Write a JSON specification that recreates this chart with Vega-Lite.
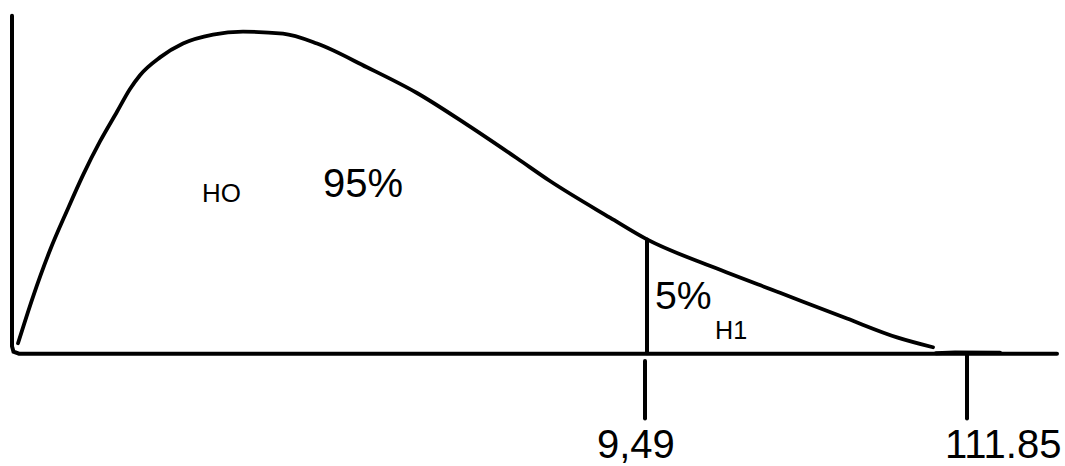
{
  "$schema": "https://vega.github.io/schema/vega-lite/v6.json",
  "width": 1065,
  "height": 466,
  "padding": 0,
  "autosize": {"type": "fit", "contains": "padding"},
  "config": {"view": {"stroke": null}, "font": "Liberation Sans"},
  "datasets": {
    "lines": [
      {"id": "axis", "o": 1, "x": 12, "y": 16},
      {"id": "axis", "o": 2, "x": 12, "y": 350},
      {"id": "axis", "o": 3, "x": 13.5, "y": 355.5},
      {"id": "axis", "o": 4, "x": 19, "y": 357.5},
      {"id": "axis", "o": 5, "x": 1057, "y": 357.5},
      {"id": "crit", "o": 1, "x": 647, "y": 242},
      {"id": "crit", "o": 2, "x": 647, "y": 357},
      {"id": "tick1", "o": 1, "x": 645, "y": 365},
      {"id": "tick1", "o": 2, "x": 645, "y": 423},
      {"id": "tick2", "o": 1, "x": 967, "y": 357},
      {"id": "tick2", "o": 2, "x": 967, "y": 423},
      {"id": "bump", "o": 1, "x": 936, "y": 357},
      {"id": "bump", "o": 2, "x": 955, "y": 356.2},
      {"id": "bump", "o": 3, "x": 1000, "y": 356.6}
    ],
    "curve": [
      {"x": 18, "y": 347},
      {"x": 33, "y": 300},
      {"x": 50, "y": 253},
      {"x": 67, "y": 213},
      {"x": 83, "y": 177},
      {"x": 100, "y": 143},
      {"x": 117, "y": 113},
      {"x": 130, "y": 90},
      {"x": 140, "y": 76},
      {"x": 160, "y": 58},
      {"x": 183, "y": 44},
      {"x": 213, "y": 35},
      {"x": 243, "y": 32},
      {"x": 283, "y": 34},
      {"x": 317, "y": 44},
      {"x": 367, "y": 68},
      {"x": 417, "y": 94},
      {"x": 467, "y": 126},
      {"x": 517, "y": 160},
      {"x": 550, "y": 183},
      {"x": 610, "y": 220},
      {"x": 647, "y": 242},
      {"x": 713, "y": 270},
      {"x": 780, "y": 296},
      {"x": 847, "y": 322},
      {"x": 897, "y": 341},
      {"x": 933, "y": 351}
    ],
    "labels": [
      {"t": "HO", "x": 202, "y": 204, "s": 23},
      {"t": "95%", "x": 323, "y": 199, "s": 41},
      {"t": "5%", "x": 655, "y": 312, "s": 40},
      {"t": "H1", "x": 715, "y": 343, "s": 22},
      {"t": "9,49", "x": 597, "y": 463, "s": 41},
      {"t": "111.85", "x": 945, "y": 463, "s": 41}
    ]
  },
  "layer": [
    {
      "data": {"name": "lines"},
      "mark": {"type": "line", "color": "black", "strokeWidth": 4, "strokeCap": "round"},
      "encoding": {
        "x": {"field": "x", "type": "quantitative", "scale": {"domain": [0, 1065], "nice": false, "zero": false}, "axis": null},
        "y": {"field": "y", "type": "quantitative", "scale": {"domain": [0, 466], "nice": false, "zero": false, "reverse": true}, "axis": null},
        "detail": {"field": "id"},
        "order": {"field": "o"}
      }
    },
    {
      "data": {"name": "curve"},
      "mark": {"type": "line", "color": "black", "strokeWidth": 3.8, "interpolate": "monotone", "strokeCap": "round"},
      "encoding": {
        "x": {"field": "x", "type": "quantitative"},
        "y": {"field": "y", "type": "quantitative"}
      }
    },
    {
      "data": {"name": "labels"},
      "mark": {"type": "text", "align": "left", "baseline": "alphabetic", "color": "black", "font": "Liberation Sans"},
      "encoding": {
        "x": {"field": "x", "type": "quantitative"},
        "y": {"field": "y", "type": "quantitative"},
        "text": {"field": "t"},
        "size": {"field": "s", "type": "quantitative", "scale": {"type": "identity"}, "legend": null}
      }
    }
  ]
}
